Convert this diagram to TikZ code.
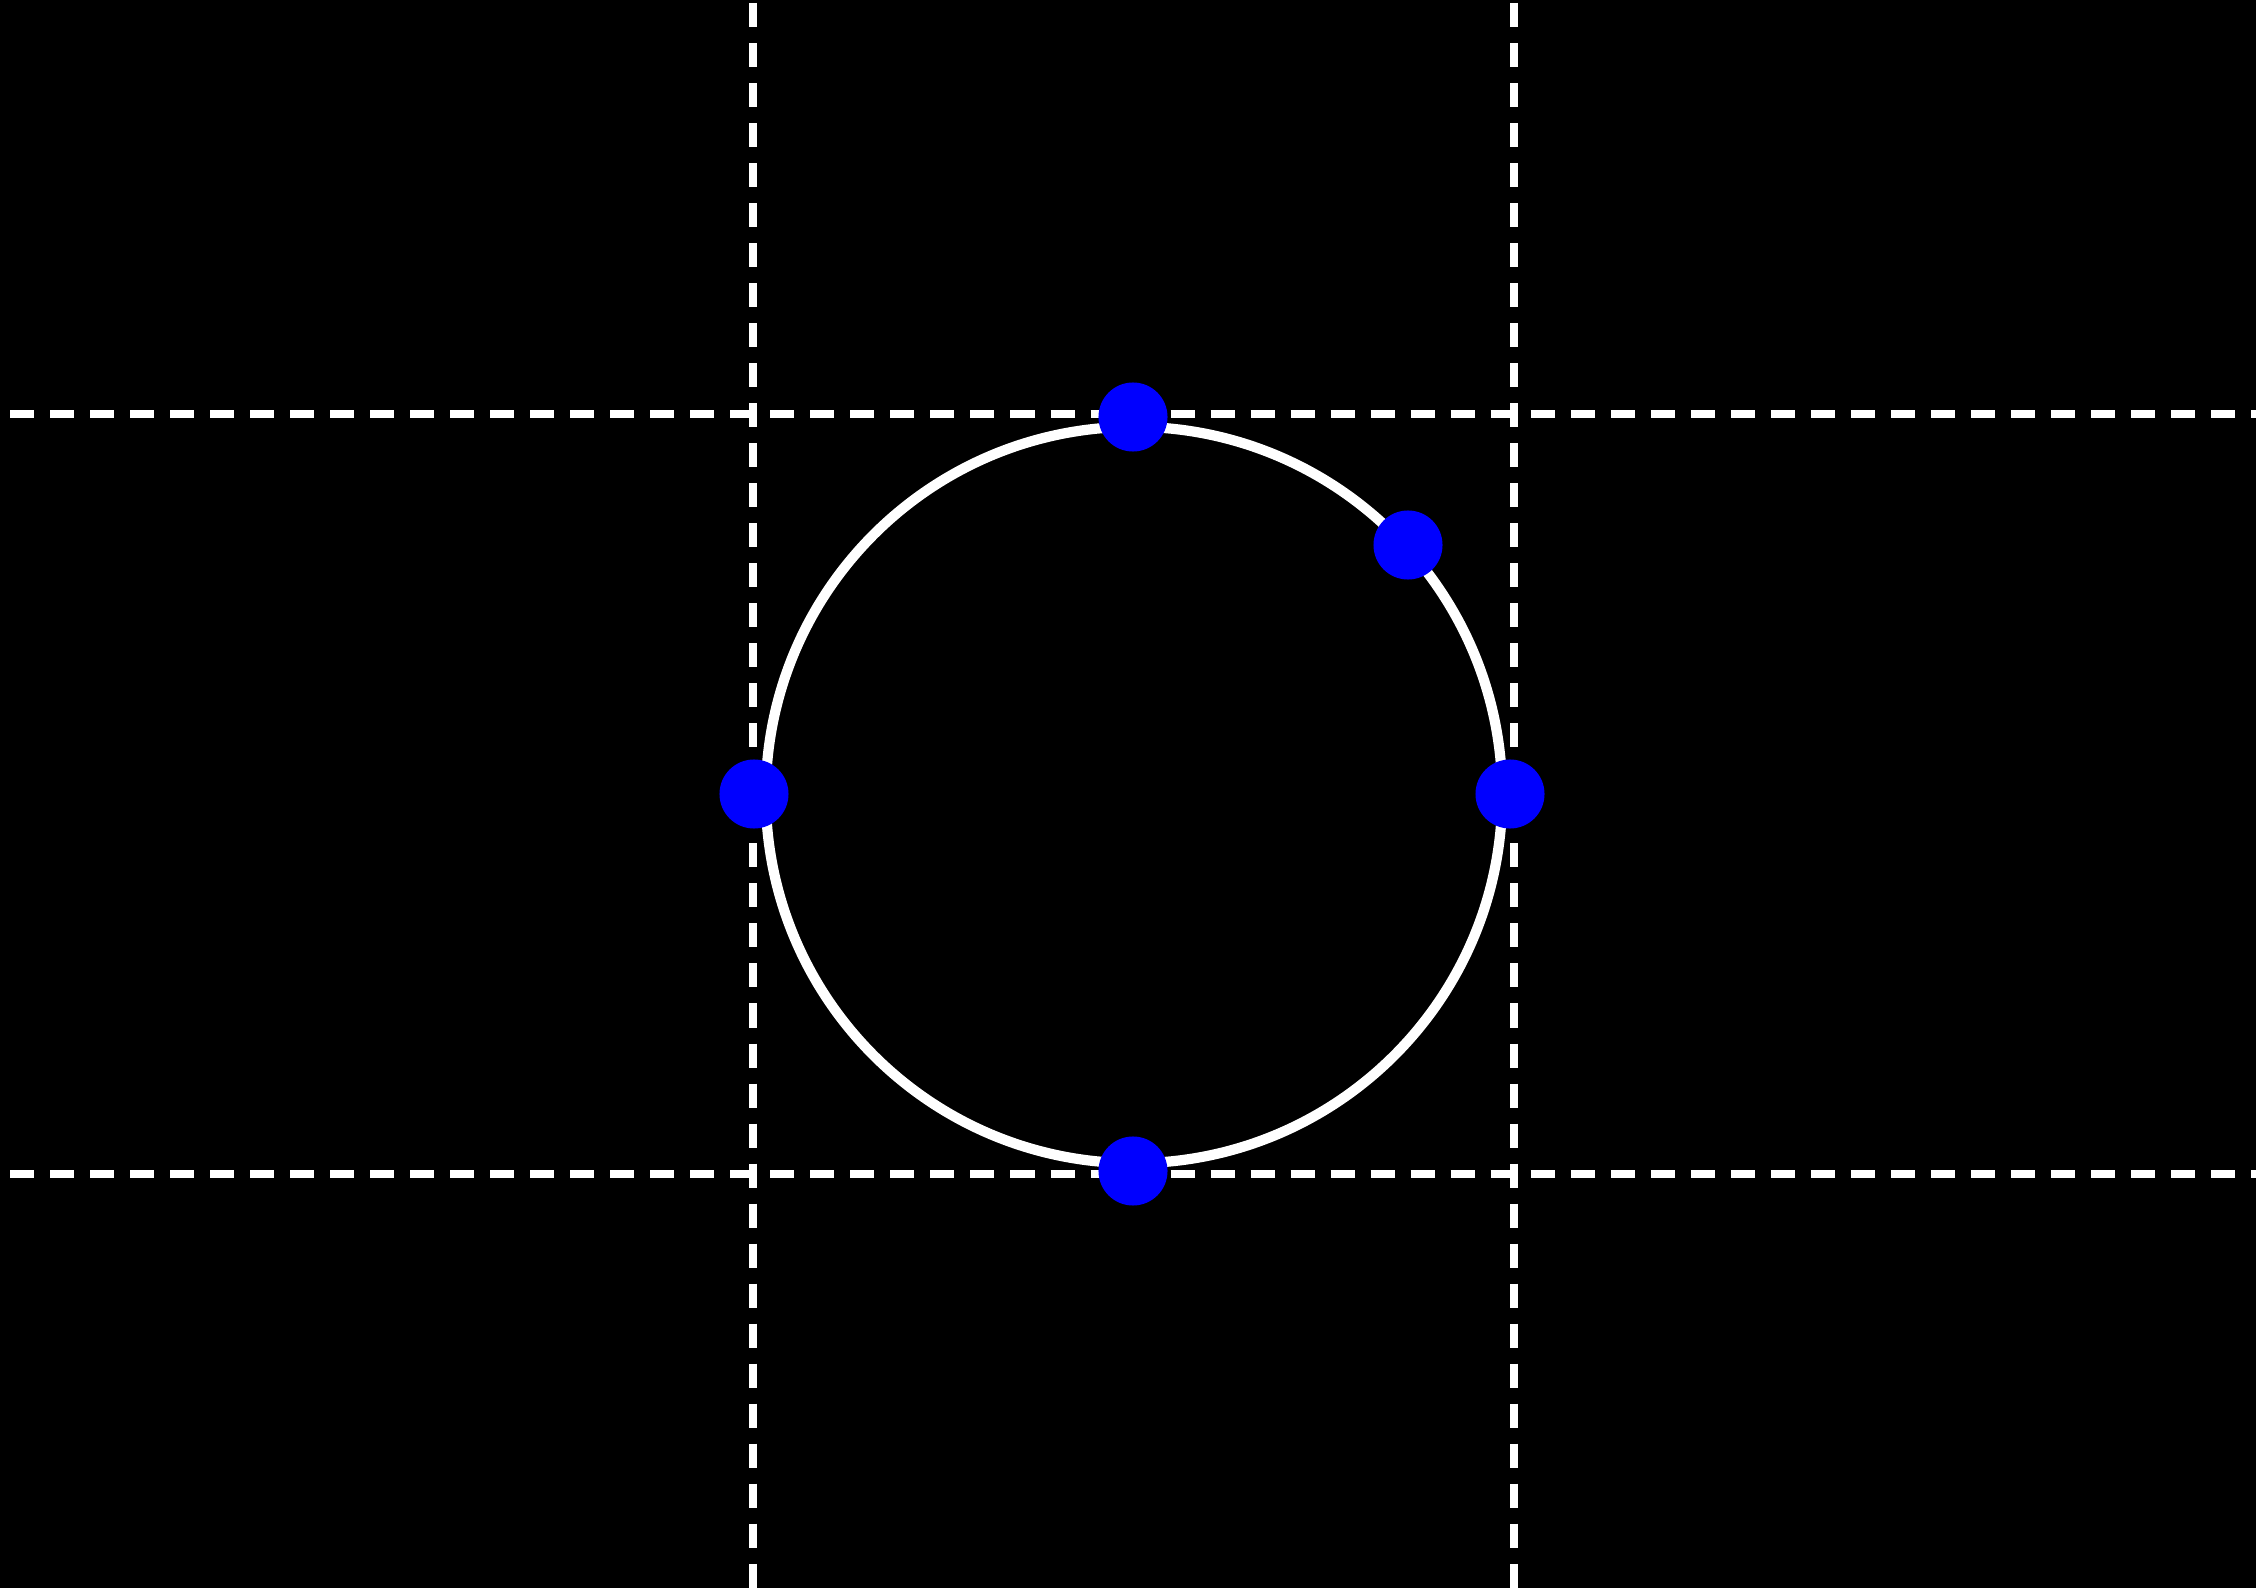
\documentclass[tikz,border=0pt]{standalone}
\usepackage{tikz}
\usetikzlibrary{positioning}

\begin{document}
\begin{tikzpicture}[x=0.01cm,y=-0.01cm,
  guide/.style={white,line width=2.1pt,dash pattern=on 6.83pt off 4.55pt},
  rim/.style={white,line width=2.9pt},
  dot/.style={circle,fill=blue,inner sep=0pt,minimum size=0.69cm}]
\fill[black] (0,0) rectangle (2256,1588);
\useasboundingbox (0,0) rectangle (2256,1588);
% guide lines
\draw[guide] (10,414) -- (2256,414);
\draw[guide] (10,1174) -- (2256,1174);
\draw[guide] (753,3) -- (753,1588);
\draw[guide] (1514,3) -- (1514,1588);
% circle and its points
\draw[rim] (1134,795) circle [radius=3.68cm];
\node[dot] (n) at (1133,417) {};
\node[dot] (ne) at (1408,545) {};
\node[dot] (w) at (754,794) {};
\node[dot] (e) at (1510,794) {};
\node[dot] (s) at (1133,1171) {};
\end{tikzpicture}
\end{document}
